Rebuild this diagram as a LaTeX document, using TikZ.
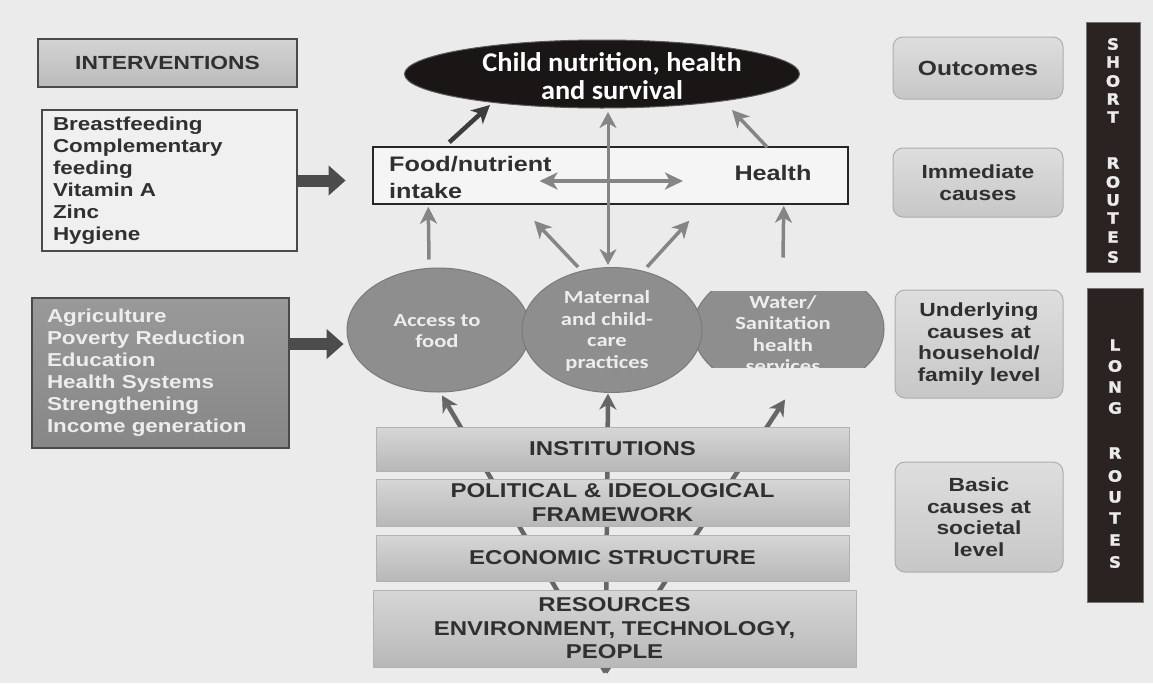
\documentclass[tikz,border=0pt]{standalone}
\usepackage{fontspec}
\usetikzlibrary{shapes.geometric,arrows.meta,calc}
\newfontfamily\fArial[FakeStretch=1.2]{Liberation Sans}
\newfontfamily\fCalA[FakeStretch=1.05]{Carlito}
\newfontfamily\fCalB[FakeStretch=1.22]{Carlito}
\newfontfamily\fHeavy[FakeStretch=1.08,FakeBold=1.6]{DejaVu Sans}
\definecolor{paper}{HTML}{EBEBEB}
\definecolor{boxedge}{HTML}{4A4A4A}
\definecolor{darktext}{HTML}{303030}
\definecolor{ellgray}{HTML}{8E8E8E}
\definecolor{elledge}{HTML}{7A7A7A}
\definecolor{elltext}{HTML}{EDEDED}
\definecolor{arrowgray}{HTML}{858585}
\definecolor{arrowdark}{HTML}{3C3C3C}
\definecolor{lowgray}{HTML}{666666}
\definecolor{barfill}{HTML}{2A2321}
\definecolor{titlefill}{HTML}{1A1616}
\pgfdeclarelayer{paperlayer}
\pgfdeclarelayer{behind}
\pgfsetlayers{paperlayer,behind,main}
\tikzset{
  hdrbox/.style={rectangle, draw=boxedge, line width=1.2pt, top color=black!17, bottom color=black!27,
    inner sep=0pt, text=darktext, font=\fArial\bfseries\fontsize{19}{22}\selectfont},
  listbox/.style={rectangle, draw=boxedge, line width=1.2pt, fill=black!6, align=left,
    inner ysep=0pt, text=darktext, font=\fArial\bfseries\fontsize{18.7}{22}\selectfont},
  agbox/.style={rectangle, draw=boxedge, line width=1.2pt, top color=black!40, bottom color=black!47, align=left,
    inner ysep=0pt, text=elltext, font=\fArial\bfseries\fontsize{18.7}{22}\selectfont},
  foodbox/.style={rectangle, draw=black!85, line width=1.5pt, fill=black!4, inner sep=0pt},
  foodtext/.style={inner sep=0pt, text=darktext, font=\fArial\bfseries\fontsize{21}{27}\selectfont},
  midell/.style={ellipse, fill=ellgray, draw=elledge, line width=1pt, inner sep=0pt},
  elltxt/.style={align=center, inner sep=0pt, text=elltext, font=\fCalB\bfseries\fontsize{18.5}{21.5}\selectfont},
  bandbox/.style={rectangle, top color=black!16, bottom color=black!28, draw=black!30, line width=0.6pt,
    align=center, inner sep=0pt, text=darktext, font=\fArial\bfseries\fontsize{20}{23.5}\selectfont},
  causebox/.style={rectangle, rounded corners=10pt, top color=black!13, bottom color=black!22, draw=black!32,
    line width=1pt, align=center, inner sep=0pt, text=darktext, font=\fArial\bfseries\fontsize{19}{21.5}\selectfont},
  routebar/.style={rectangle, fill=barfill, draw=black!55, line width=0.8pt, inner sep=0pt},
  routeletter/.style={inner sep=0pt, text=white!92!black, font=\fHeavy\bfseries\fontsize{15.5}{15.5}\selectfont},
  blockarrow/.style={draw=black!70, line width=12pt, -{Triangle[length=17pt,width=29pt]}},
  grayarrow/.style={draw=arrowgray, line width=3.5pt, -{Stealth[length=17pt,width=17pt,inset=5pt]}},
  darkarrow/.style={draw=arrowdark, line width=4.5pt, -{Stealth[length=18pt,width=18pt,inset=5pt]}},
  vdouble/.style={draw=arrowgray, line width=3pt, {Stealth[length=16pt,width=17pt,inset=5pt]}-{Stealth[length=16pt,width=17pt,inset=5pt]}},
  hdouble/.style={draw=arrowgray, line width=3.5pt, {Stealth[length=18pt,width=17pt,inset=5pt]}-{Stealth[length=18pt,width=17pt,inset=5pt]}},
  lowarrow/.style={draw=lowgray, line width=4.5pt, -{Stealth[length=16pt,width=17pt,inset=5pt]}}
}
\begin{document}
\begin{tikzpicture}[x=1pt,y=-1pt]
\begin{pgfonlayer}{paperlayer}
\fill[paper] (0,0) rectangle (1153,683);
\end{pgfonlayer}
\useasboundingbox (0,0) rectangle (1153,683);

% left column
\node[hdrbox, minimum width=259pt, minimum height=48pt] (intv) at (167.5,63) {INTERVENTIONS};
\node[listbox, text width=233pt, inner xsep=11pt, minimum height=141pt] (bf) at (169.5,180.5)
  {Breastfeeding\\Complementary\\feeding\\Vitamin A\\Zinc\\Hygiene};
\node[agbox, text width=227pt, inner xsep=15pt, minimum height=150pt] (ag) at (160.5,373)
  {Agriculture\\Poverty Reduction\\Education\\Health Systems\\Strengthening\\Income generation};

% top
\node[ellipse, fill=titlefill, draw=black!65, line width=1pt, minimum width=395pt, minimum height=68pt, inner sep=0pt] (title) at (602,74) {};
\node[align=center, inner sep=0pt, text=white, font=\fCalA\bfseries\fontsize{27}{28}\selectfont] (titletxt) at (612,76)
  {Child nutrition, health\\and survival};

\node[foodbox, minimum width=475pt, minimum height=57pt] (food) at (610.5,175.5) {};
\node[foodtext, anchor=west, align=left] (foodtxt) at (389,177) {Food/nutrient\\intake};
\node[foodtext] (health) at (773,173) {Health};

% bands
\node[bandbox, minimum width=473pt, minimum height=44pt] (inst) at (612.5,449) {INSTITUTIONS};
\node[bandbox, minimum width=473pt, minimum height=47pt] (pol) at (612.5,502.5) {POLITICAL \& IDEOLOGICAL\\FRAMEWORK};
\node[bandbox, minimum width=473pt, minimum height=46pt] (eco) at (612.5,558) {ECONOMIC STRUCTURE};
\node[bandbox, minimum width=483pt, minimum height=77pt] (res) at (614.5,628.5) {RESOURCES\\ENVIRONMENT, TECHNOLOGY,\\PEOPLE};

% middle ellipses
\begin{scope}
\clip (600,291) rectangle (900,367);
\node[midell, minimum width=191pt, minimum height=128pt] (wat) at (788.5,329) {};
\node[elltxt] (wattxt) at (783,334) {Water/\\Sanitation\\health\\services};
\end{scope}
\node[midell, minimum width=183pt, minimum height=124pt] (acc) at (438.5,330) {};
\node[elltxt] (acctxt) at (437,331) {Access to\\food};
\node[midell, minimum width=180pt, minimum height=125pt] (mat) at (612,330) {};
\node[elltxt] (mattxt) at (607,331) {Maternal\\and child-\\care\\practices};

% right column
\node[causebox, minimum width=170pt, minimum height=62pt, font=\fArial\bfseries\fontsize{20.5}{22}\selectfont] (out) at (978,68) {Outcomes};
\node[causebox, minimum width=170pt, minimum height=69pt] (imm) at (978,182.5) {Immediate\\causes};
\node[causebox, minimum width=168pt, minimum height=108pt] (und) at (979,344) {Underlying\\causes at\\household/\\family level};
\node[causebox, minimum width=168pt, minimum height=110pt] (bas) at (979,517) {Basic\\causes at\\societal\\level};

\node[routebar, minimum width=54pt, minimum height=250pt] (short) at (1113,147) {};
\node[routebar, minimum width=56pt, minimum height=314pt] (long) at (1115,445) {};
\foreach \ch/\yy [count=\k] in {S/44,H/62,O/81,R/99,T/117,R/163,O/182,U/200,T/218,E/237,S/257}
  \node[routeletter] (sr\k) at (1113,\yy) {\ch};
\foreach \ch/\yy [count=\k] in {L/345,O/366,N/387,G/408,R/453,O/476,U/497,T/518,E/540,S/562}
  \node[routeletter] (lr\k) at (1115,\yy) {\ch};

% block arrows
\draw[blockarrow] (bf.east) -- ++(48,0);
\draw[blockarrow] ($(ag.east)+(0,-29)$) -- ++(54,0);

% arrows to outcome
\draw[darkarrow] ($(food.north west)+(77,-4)$) -- ($(title.center)+(-112,31)$);
\draw[grayarrow] ($(food.north west)+(395,1)$) -- ($(title.center)+(130,36)$);
\draw[vdouble] ($(title.center)+(6,38)$) -- ($(mat.north)+(-4,-2)$);
\draw[hdouble] ($(food.center)+(-71,5.5)$) -- ($(food.center)+(72.5,5.5)$);

% arrows to immediate causes
\draw[grayarrow] ($(acc.north)+(-9.5,-8)$) -- ($(food.south west)+(56,2)$);
\draw[grayarrow] ($(mat.north)+(-34,0)$) -- ($(food.south west)+(162,16)$);
\draw[grayarrow] ($(mat.north)+(35,0)$) -- ($(food.south west)+(317,16)$);
\draw[grayarrow] ($(wat.north)+(-5.5,-7)$) -- ($(food.south east)+(-65,1)$);

% arrows from basic causes (behind the bands)
\begin{pgfonlayer}{behind}
\coordinate (base) at ($(res.south)+(-9,5)$);
\draw[lowarrow] (base) -- ($(acc.south)+(3.5,3)$);
\draw[lowarrow] (base) -- ($(mat.south)+(-4,0.5)$);
\draw[lowarrow] (base) -- ($(wat.south)+(-3.5,6)$);
\end{pgfonlayer}
\end{tikzpicture}
\end{document}
